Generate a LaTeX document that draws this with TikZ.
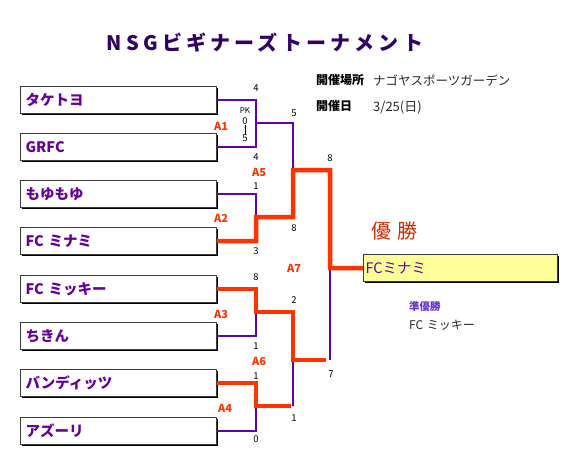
\documentclass[tikz,border=0pt]{standalone}
\usepackage{fontspec}
\setmainfont{Noto Sans CJK JP}
\usetikzlibrary{shadows}
\definecolor{nsgPurple}{RGB}{102,0,170}
\definecolor{nsgText}{RGB}{102,0,153}
\definecolor{nsgTitle}{RGB}{51,0,102}
\definecolor{nsgRed}{RGB}{255,51,0}
\definecolor{nsgDarkRed}{RGB}{214,40,0}
\definecolor{nsgYellow}{RGB}{255,255,153}
\definecolor{nsgBorder}{RGB}{60,60,60}
\definecolor{nsgBlue}{RGB}{102,51,204}
\definecolor{nsgGray}{RGB}{40,40,40}

\begin{document}
\begin{tikzpicture}[x=1pt,y=-1pt,
  team/.style={draw=nsgBorder, line width=1.2pt, fill=white, anchor=north west,
    text width=186pt, inner xsep=5pt, inner ysep=0pt, minimum height=27pt,
    text=nsgText, font=\bfseries\fontsize{14.5}{14.5}\selectfont,
    general shadow={fill=black, shadow xshift=1.6pt, shadow yshift=-1.6pt}},
  lose/.style={nsgPurple, line width=1.5pt},
  win/.style={nsgRed, line width=4.5pt, line join=miter},
  score/.style={text=black, font=\fontsize{9.5}{10}\selectfont, inner sep=0pt},
  game/.style={text=nsgRed, font=\bfseries\fontsize{11}{11}\selectfont, inner sep=0pt}]
\useasboundingbox (0,0) rectangle (576,451);

\node[text=nsgTitle, font=\bfseries\fontsize{20}{20}\selectfont\addfontfeature{LetterSpace=21}]
  (title) at (265,43) {NSGビギナーズトーナメント};

\node[anchor=west, inner sep=0pt, font=\bfseries\fontsize{12}{12}\selectfont] (placelbl) at (316,80) {開催場所};
\node[anchor=west, inner sep=0pt, text=nsgGray, font=\fontsize{12.5}{12.5}\selectfont] (place) at (373,81) {ナゴヤスポーツガーデン};
\node[anchor=west, inner sep=0pt, font=\bfseries\fontsize{12}{12}\selectfont] (datelbl) at (316,106) {開催日};
\node[anchor=west, inner sep=0pt, text=nsgGray, font=\fontsize{13}{13}\selectfont] (date) at (373,107) {3/25(日)};

% teams
\node[team] (t1) at (20,86) {タケトヨ};
\node[team] (t2) at (20,133) {GRFC};
\node[team] (t3) at (20,180) {もゆもゆ};
\node[team] (t4) at (20,227) {FC ミナミ};
\node[team] (t5) at (20,275) {FC ミッキー};
\node[team] (t6) at (20,322) {ちきん};
\node[team] (t7) at (20,369) {バンディッツ};
\node[team] (t8) at (20,417) {アズーリ};

\node[team, fill=nsgYellow, text width=190pt, inner xsep=2pt, font=\fontsize{14.5}{14.5}\selectfont]
  (champ) at (363,254) {FCミナミ};

% junctions
\coordinate (m1) at (256,123);
\coordinate (m2) at (256,217);
\coordinate (m3) at (256,312);
\coordinate (m4) at (256,406);
\coordinate (m5) at (293,170);
\coordinate (m6) at (293,360);
\coordinate (m7) at (330,268);

% losers
\draw[lose] (t1.east) -| (m1) |- (t2.east);
\draw[lose] (m1) -| (m5);
\draw[lose] (t3.east) -| (m2);
\draw[lose] (t6.east) -| (m3);
\draw[lose] (t8.east) -| (m4);
\draw[lose] (m4 -| m6) -- (m6);
\draw[lose] (m6 -| m7) -- (m7);

% winners
\draw[win] (t4.east) -| (m2) -| (m5) -| (m7) -- (champ.west);
\draw[win] (t5.east) -| (m3) -| (m6) -- ([xshift=-4pt]m6 -| m7);
\draw[win] (t7.east) -| (m4) -- ([xshift=-2pt]m4 -| m6);

% scores
\foreach \px/\py/\t [count=\i] in {256/88/4, 256/157/4, 294/113/5, 256/186/1, 256/251/3, 294/228/8,
    330/158/8, 256/277/8, 256/346/1, 294/300/2, 256/376/1, 256/439/0, 294/418/1, 331/374/7}
  \node[score] (s\i) at (\px,\py) {\t};
\node[score, font=\fontsize{8}{8}\selectfont] (pk) at (245,111) {PK};
\node[score] (pk1) at (245,121) {0};
\node[score] (pk2) at (245,138) {5};
\draw[black, line width=0.8pt] (pk1.south) -- (pk2.north);

% games
\foreach \px/\py/\t [count=\i] in {221/126/A1, 221/218/A2, 221/314/A3, 225/408/A4,
    259/172/A5, 259/361/A6, 294/268/A7}
  \node[game] (g\i) at (\px,\py) {\t};

\node[text=nsgDarkRed, font=\fontsize{20}{20}\selectfont] (win) at (394,231) {優\hspace{0.3em}勝};
\node[anchor=west, inner sep=0pt, text=nsgBlue, font=\bfseries\fontsize{10.5}{10.5}\selectfont] (runlbl) at (409,307) {準優勝};
\node[anchor=west, inner sep=0pt, text=nsgGray, font=\fontsize{12}{12}\selectfont] (run) at (409,325) {FC\hspace{0.3em}ミッキー};
\end{tikzpicture}
\end{document}
